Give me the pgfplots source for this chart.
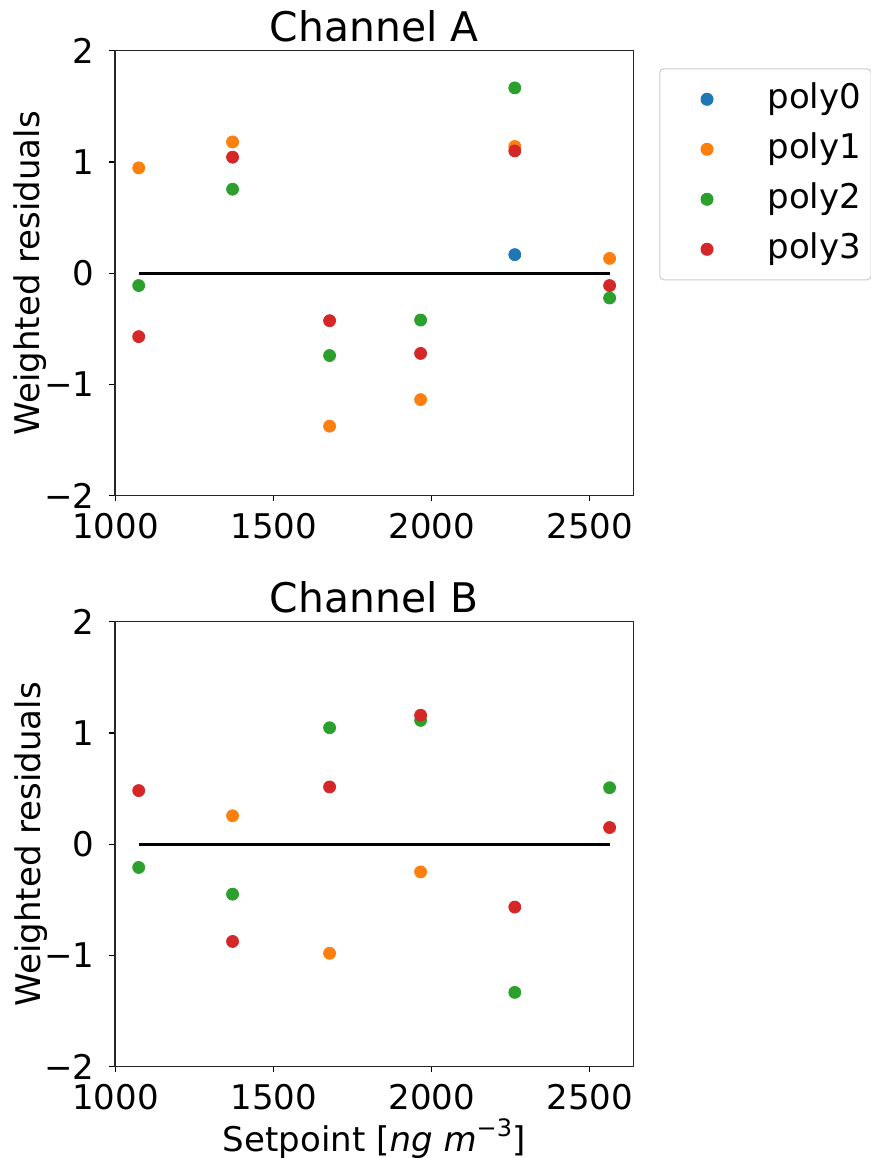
\documentclass[border=0pt]{standalone}
\usepackage{fontspec}
\setmainfont{DejaVu Sans}
\usepackage{pgfplots}
\pgfplotsset{compat=1.18}

\definecolor{tabblue}{HTML}{1F77B4}
\definecolor{taborange}{HTML}{FF7F0E}
\definecolor{tabgreen}{HTML}{2CA02C}
\definecolor{tabred}{HTML}{D62728}

% 1px of the reference = 0.5pt here
\pgfplotsset{
  every axis title shift=0pt,
  resid/.style={
    scale only axis, width=259.15pt, height=222.5pt,
    xmin=998, xmax=2638, ymin=-2, ymax=2,
    xtick={1000,1500,2000,2500}, xticklabels={1000,1500,2000,2500},
    ytick={-2,-1,0,1,2}, yticklabels={−2,−1,0,1,2},
    tick pos=left, tick align=outside, major tick length=2.85pt,
    every tick/.style={black, line width=0.6pt},
    axis line style={black!85, line width=0.65pt},
    font=\fontsize{17}{20}\selectfont,
    xticklabel style={anchor=base, yshift=-18.65pt, inner sep=0pt},
    yticklabel style={anchor=east, xshift=-7.15pt, inner sep=0pt},
    ylabel={Weighted residuals},
    ylabel style={at={(axis description cs:-0.1447,0.5)}, anchor=base},
    title style={font=\fontsize{20.4}{24}\selectfont, at={(axis description cs:0.5,1)}, anchor=base, yshift=4.7pt},
  },
  dot/.style={only marks, mark=*, mark size=3pt, color=#1,
    mark options={draw=none, fill=#1},
    legend image code/.code={\path (-18.35pt,0pt) (30pt,0pt); \draw[##1] plot coordinates {(0pt,0pt)};}},
  zero/.style={black, line width=1.7pt, forget plot},
}

\begin{document}
\begin{tikzpicture}

% Channel A
\begin{axis}[resid, at={(57.5pt,-25.35pt)}, anchor=north west,
  title={Channel A},
  legend cell align=left,
  legend style={at={(axis description cs:1.0502,0.9605)}, anchor=north west,
    draw=black!20, line width=0.5pt, rounded corners=2pt, fill=white,
    inner xsep=5pt, inner ysep=7.75pt, row sep=10pt,
    nodes={inner sep=0pt, text height=12pt, text depth=3pt}},
]
\addplot[zero] coordinates {(1073,0) (2563,0)};
\addplot[dot=tabblue] coordinates {(2263,0.167)};
\addlegendentry{poly0}
\addplot[dot=taborange] coordinates {
  (1073,0.947) (1370,1.180) (1677,-1.375) (1965,-1.136) (2263,1.139) (2563,0.133)};
\addlegendentry{poly1}
\addplot[dot=tabgreen] coordinates {
  (1073,-0.111) (1370,0.755) (1677,-0.740) (1965,-0.421) (2263,1.666) (2563,-0.223)};
\addlegendentry{poly2}
\addplot[dot=tabred] coordinates {
  (1073,-0.570) (1370,1.043) (1677,-0.427) (1965,-0.721) (2263,1.099) (2563,-0.111)};
\addlegendentry{poly3}
\end{axis}

% Channel B
\begin{axis}[resid, at={(57.5pt,-310.85pt)}, anchor=north west,
  title={Channel B},
  xlabel={Setpoint [\textit{ng m}\raisebox{7.5pt}{\fontsize{12}{12}\selectfont −3}]},
  xlabel style={at={(axis description cs:0.5,-0.1909)}, anchor=base},
]
\addplot[zero] coordinates {(1073,0) (2563,0)};
\addplot[dot=taborange] coordinates {
  (1370,0.256) (1677,-0.980) (1965,-0.249)};
\addplot[dot=tabgreen] coordinates {
  (1073,-0.209) (1370,-0.449) (1677,1.047) (1965,1.113) (2263,-1.332) (2563,0.508)};
\addplot[dot=tabred] coordinates {
  (1073,0.482) (1370,-0.874) (1677,0.515) (1965,1.159) (2263,-0.565) (2563,0.150)};
\end{axis}

\pgfresetboundingbox
\useasboundingbox (0pt,0pt) rectangle (435.5pt,-579pt);
\end{tikzpicture}
\end{document}
